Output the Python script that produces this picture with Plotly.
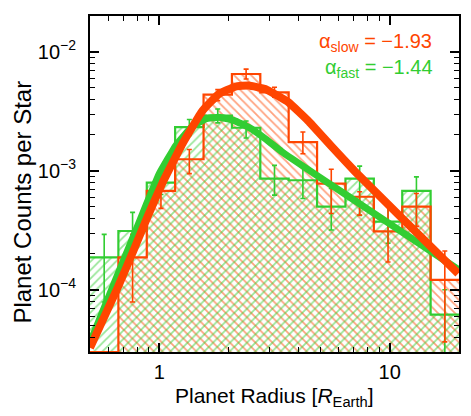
import numpy as np
import plotly.graph_objects as go

# ---- data ----
bin_edges = [0.5, 0.664, 0.882, 1.171, 1.556, 2.066, 2.744, 3.644, 4.840, 6.428, 8.537, 11.34, 15.06, 20.0]

slow_counts = [3.0e-5, 1.87e-4, 6.79e-4, 1.25e-3, 4.37e-3, 6.51e-3, 4.57e-3, 1.74e-3, 7.81e-4, 6.05e-4, 3.10e-4, 4.99e-4, 1.21e-4]
slow_err_hi = [None, 2.92e-4, 8.94e-4, 1.51e-3, 4.81e-3, 7.16e-3, 5.04e-3, 2.12e-3, 1.03e-3, 6.66e-4, 5.21e-4, 6.45e-4, 2.12e-4]
slow_err_lo = [None, 7.89e-5, 4.83e-4, 9.47e-4, 3.89e-3, 5.91e-3, 4.15e-3, 1.39e-3, 4.38e-4, 4.24e-4, 1.71e-4, 3.41e-4, 3.65e-5]

fast_counts = [1.87e-4, 3.12e-4, 7.96e-4, 2.33e-3, 2.91e-3, 2.30e-3, 8.60e-4, 8.33e-4, 4.99e-4, 8.60e-4, 3.74e-4, 6.79e-4, 6.18e-5]
fast_err_hi = [2.92e-4, 4.47e-4, 1.01e-3, 2.70e-3, 3.31e-3, 2.62e-3, 1.11e-3, 1.08e-3, 7.10e-4, 1.095e-3, 5.31e-4, 8.89e-4, 1.0e-4]
fast_err_lo = [7.89e-5, 2.23e-4, 6.32e-4, 1.98e-3, 2.53e-3, 1.885e-3, 6.24e-4, 5.85e-4, 3.18e-4, 4.22e-4, 2.46e-4, 3.08e-4, 1.0e-6]

slow_fit_r = [0.5, 0.661, 0.767, 0.890, 1.033, 1.26, 1.537, 1.814, 2.141, 2.443, 2.884, 3.634, 4.43, 5.585, 7.045, 10.83, 19.84]
slow_fit_n = [3.25e-5, 1.054e-4, 2.068e-4, 4.137e-4, 7.96e-4, 1.689e-3, 3.19e-3, 4.43e-3, 5.11e-3, 5.21e-3, 4.87e-3, 3.77e-3, 2.63e-3, 1.609e-3, 9.94e-4, 4.34e-4, 1.366e-4]

fast_fit_r = [0.5, 0.661, 0.767, 0.876, 1.0, 1.18, 1.392, 1.590, 1.814, 2.105, 2.443, 2.884, 3.40, 4.735, 6.59, 10.83, 19.84]
fast_fit_n = [3.58e-5, 1.353e-4, 2.74e-4, 5.14e-4, 9.47e-4, 1.634e-3, 2.366e-3, 2.734e-3, 2.825e-3, 2.656e-3, 2.32e-3, 1.86e-3, 1.447e-3, 9.39e-4, 6.14e-4, 3.24e-4, 1.48e-4]

alpha_slow = "−1.93"
alpha_fast = "−1.44"

x_tickvals = [1, 10]
x_ticktext = ["1", "10"]
y_tickvals = [1e-4, 1e-3, 1e-2]
y_ticktext = ["10<sup>−4</sup>", "10<sup>−3</sup>", "10<sup>−2</sup>"]
x_minor = [0.6, 0.7, 0.8, 0.9, 2, 3, 4, 5, 6, 7, 8, 9, 20]
y_minor = [m * d for d in (1e-5, 1e-4, 1e-3, 1e-2) for m in range(2, 10)]

ORANGE = "#FF4500"
GREEN = "#32CD32"
FLOOR = 1e-7

edges = np.array(bin_edges)
centers = np.sqrt(edges[:-1] * edges[1:])


def fill_polygon(counts):
    xs, ys = [edges[0]], [FLOOR]
    for i, v in enumerate(counts):
        xs += [edges[i], edges[i + 1]]
        ys += [v, v]
    xs.append(edges[-1])
    ys.append(FLOOR)
    return xs, ys


def err_arrays(vals, hi, lo):
    plus, minus, yv = [], [], []
    for v, h, l in zip(vals, hi, lo):
        if h is None:
            plus.append(0); minus.append(0); yv.append(None)
        else:
            plus.append(h - v); minus.append(v - l); yv.append(v)
    return yv, plus, minus


fig = go.Figure()

for counts, col, shp in ((slow_counts, ORANGE, "\\"), (fast_counts, GREEN, "/")):
    px_, py_ = fill_polygon(counts)
    fig.add_trace(go.Scatter(
        x=px_, y=py_, mode="lines", fill="toself",
        line=dict(width=0, color="rgba(0,0,0,0)"),
        fillcolor="rgba(0,0,0,0)",
        fillpattern=dict(shape=shp, fgcolor=col, bgcolor="rgba(0,0,0,0)", size=6, solidity=0.3),
        hoverinfo="skip", showlegend=False))

for counts, col in ((fast_counts, GREEN), (slow_counts, ORANGE)):
    fig.add_trace(go.Scatter(
        x=list(edges), y=list(counts) + [counts[-1]], mode="lines",
        line=dict(shape="hv", color=col, width=2.2), showlegend=False))

for vals, hi, lo, col in ((fast_counts, fast_err_hi, fast_err_lo, GREEN),
                          (slow_counts, slow_err_hi, slow_err_lo, ORANGE)):
    yv, plus, minus = err_arrays(vals, hi, lo)
    fig.add_trace(go.Scatter(
        x=centers, y=yv, mode="markers", marker=dict(size=0.1, color=col),
        error_y=dict(type="data", symmetric=False, array=plus, arrayminus=minus,
                     color=col, thickness=1.6, width=2.5),
        showlegend=False))

fig.add_trace(go.Scatter(x=fast_fit_r, y=fast_fit_n, mode="lines",
                         line=dict(color=GREEN, width=7, shape="spline", smoothing=0.3),
                         showlegend=False))
fig.add_trace(go.Scatter(x=slow_fit_r, y=slow_fit_n, mode="lines",
                         line=dict(color=ORANGE, width=8, shape="spline", smoothing=0.3),
                         showlegend=False))

FONT = "Liberation Sans, Arial, Helvetica, sans-serif"

axis_common = dict(
    type="log", showline=True, linewidth=2, linecolor="black", mirror="allticks",
    ticks="inside", ticklen=9, tickwidth=1.5, tickcolor="black",
    showgrid=False, zeroline=False,
    tickfont=dict(family=FONT, size=20, color="black"),
)

fig.update_xaxes(**axis_common, range=[np.log10(0.5), np.log10(20)],
                 tickmode="array", tickvals=x_tickvals, ticktext=x_ticktext,
                 minor=dict(tickmode="array", tickvals=x_minor, ticks="inside", ticklen=5,
                            tickwidth=1.2, tickcolor="black"),
                 ticklabelstandoff=1)
fig.update_yaxes(**axis_common, range=[np.log10(3e-5), np.log10(2e-2)],
                 tickmode="array", tickvals=y_tickvals, ticktext=y_ticktext,
                 minor=dict(tickmode="array", tickvals=y_minor, ticks="inside", ticklen=5,
                            tickwidth=1.2, tickcolor="black"),
                 ticklabelstandoff=8)

fig.add_annotation(xref="paper", yref="paper", x=0.933, y=0.922, xanchor="right", yanchor="middle",
                   text=f"α<sub>slow</sub> = {alpha_slow}", showarrow=False,
                   font=dict(family=FONT, size=20, color=ORANGE))
fig.add_annotation(xref="paper", yref="paper", x=0.936, y=0.845, xanchor="right", yanchor="middle",
                   text=f"α<sub>fast</sub> = {alpha_fast}", showarrow=False,
                   font=dict(family=FONT, size=20, color=GREEN))
fig.add_annotation(xref="paper", yref="paper", x=0.5, y=-0.134, xanchor="center", yanchor="middle",
                   text="Planet Radius [<i>R</i><sub>Earth</sub>]", showarrow=False,
                   font=dict(family=FONT, size=21, color="black"))
fig.add_annotation(xref="paper", yref="paper", x=-0.183, y=0.446, xanchor="center", yanchor="middle",
                   text="Planet Counts per Star", showarrow=False, textangle=-90,
                   font=dict(family=FONT, size=24, color="black"))

fig.update_layout(
    width=471, height=416,
    margin=dict(l=90, r=10, t=16, b=64),
    paper_bgcolor="white", plot_bgcolor="white",
    showlegend=False,
    font=dict(family=FONT),
)

fig.write_html("out.html", config={"displayModeBar": False},
               post_script="document.body.style.margin='0';document.body.style.overflow='hidden';")
